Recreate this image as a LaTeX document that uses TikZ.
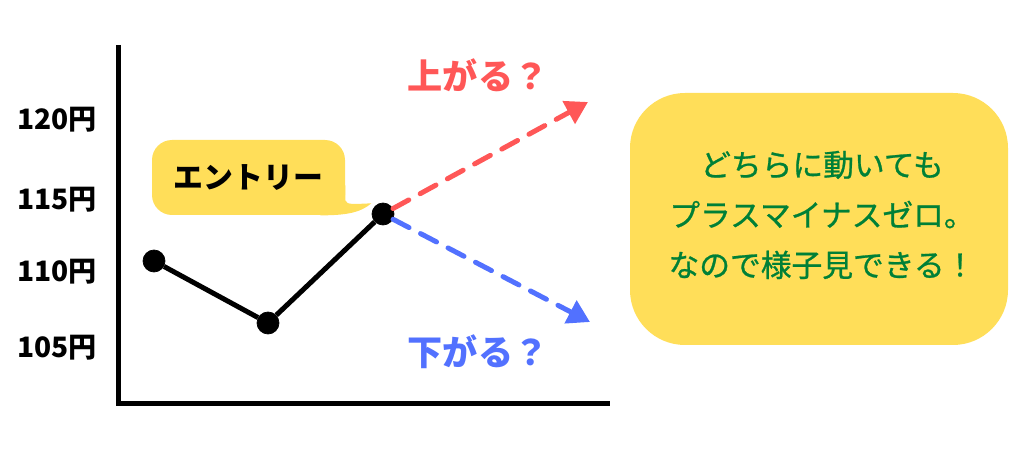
\documentclass[tikz,border=0pt]{standalone}
\usepackage{fontspec}
\setmainfont{Noto Sans CJK JP}
\newfontfamily\notefont{Noto Sans CJK JP}[FakeBold=0.8]
\usetikzlibrary{arrows.meta,positioning}

\definecolor{upred}{HTML}{FF5757}
\definecolor{downblue}{HTML}{5271FF}
\definecolor{memo}{HTML}{FFDE59}
\definecolor{memotext}{HTML}{008037}

\begin{document}
\begin{tikzpicture}[
            dot/.style={draw, circle, fill=black, inner sep=0, minimum size=0.44cm},
            price/.style={anchor=east, inner sep=0, font=\fontsize{16}{16}\selectfont\bfseries},
            guess/.style={inner sep=0, font=\fontsize{20}{20}\selectfont\bfseries},
            trend/.style={line width=0.1cm, dash pattern=on 0.36cm off 0.26cm, line cap=round,
                          -{Triangle[length=0.44cm, width=0.5cm]}}]
        \useasboundingbox (0,0) rectangle (20.48,9);

        % axes
        \coordinate (ytop) at (2.36,8.1);
        \coordinate (xend) at (12.2,0.92);
        \draw [line width=0.1cm] (ytop) |- (xend);

        \node [price] (y120) at (1.94,6.6) {120円};
        \node [price] (y115) at (1.94,5.0) {115円};
        \node [price] (y110) at (1.94,3.56) {110円};
        \node [price] (y105) at (1.94,2.04) {105円};

        % price line
        \node [dot] (p1) at (3.08,3.78) {};
        \node [dot] (p2) at (5.36,2.54) {};
        \node [dot] (p3) at (7.66,4.72) {};
        \draw [line width=0.1cm] (p1) -- (p2) -- (p3);

        % speech bubble
        \node [fill=memo, rounded corners=0.4cm, minimum width=3.86cm, minimum height=1.5cm,
               font=\fontsize{17}{17}\selectfont\bfseries] (entry) at (4.97,5.45) {エントリー};
        \fill [memo] ([yshift=0.6cm]entry.south east) -- ([yshift=0.3cm]entry.south east)
            .. controls ([xshift=0.02cm, yshift=0.2cm]entry.south east) and ([xshift=0.2cm, yshift=0.23cm]entry.south east)
            .. ([xshift=0.52cm, yshift=0.24cm]entry.south east)
            .. controls ([xshift=0.3cm, yshift=0.05cm]entry.south east) and ([xshift=0.0cm]entry.south east)
            .. ([xshift=-0.5cm]entry.south east) -- ([xshift=-0.5cm, yshift=0.6cm]entry.south east) -- cycle;

        % up or down
        \coordinate (uptip) at (11.76,6.96);
        \coordinate (downtip) at (11.8,2.56);
        \draw [trend, upred] (p3) -- (uptip);
        \draw [trend, downblue] (p3) -- (downtip);
        \node [guess, text=upred] (up) at (9.56,7.5) {上がる？};
        \node [guess, text=downblue] (down) at (9.56,1.96) {下がる？};

        % note
        \node [fill=memo, rounded corners=1.1cm, minimum width=7.56cm, minimum height=5.04cm] (note) at (16.38,4.62) {};
        \node [text=memotext, align=center, inner sep=0,
               font=\notefont\fontsize{17.5}{28.5}\selectfont] (msg) at (16.44,4.7)
            {どちらに動いても\\プラスマイナスゼロ。\\なので様子見できる！};
    \end{tikzpicture}
\end{document}
